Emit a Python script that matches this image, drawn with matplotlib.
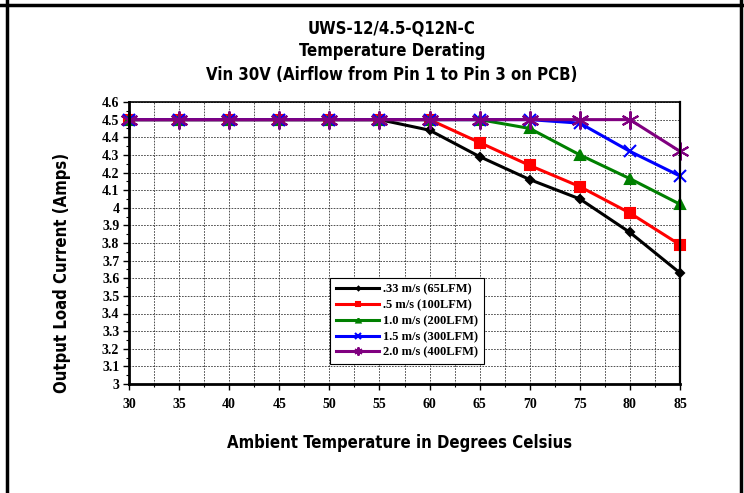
import matplotlib.pyplot as plt
from matplotlib import font_manager
from matplotlib.ticker import MultipleLocator

# --- data ---
temps = [30, 35, 40, 45, 50, 55, 60, 65, 70, 75, 80, 85]
amps_033 = [4.5, 4.5, 4.5, 4.5, 4.5, 4.5, 4.44, 4.29, 4.16, 4.05, 3.86, 3.63]
amps_05 = [4.5, 4.5, 4.5, 4.5, 4.5, 4.5, 4.5, 4.37, 4.24, 4.12, 3.97, 3.79]
amps_10 = [4.5, 4.5, 4.5, 4.5, 4.5, 4.5, 4.5, 4.5, 4.45, 4.30, 4.165, 4.02]
amps_15 = [4.5, 4.5, 4.5, 4.5, 4.5, 4.5, 4.5, 4.5, 4.5, 4.48, 4.32, 4.18]
amps_20 = [4.5, 4.5, 4.5, 4.5, 4.5, 4.5, 4.5, 4.5, 4.5, 4.5, 4.5, 4.32]
labels = [".33 m/s (65LFM)", ".5 m/s (100LFM)", "1.0 m/s (200LFM)",
          "1.5 m/s (300LFM)", "2.0 m/s (400LFM)"]

title_lines = ["UWS-12/4.5-Q12N-C", "Temperature Derating",
               "Vin 30V (Airflow from Pin 1 to Pin 3 on PCB)"]

# look for a condensed bold sans file
cond = [f for f in font_manager.fontManager.ttflist
        if ('Condensed' in f.fname or 'Narrow' in f.fname) and 'Bold' in f.fname
        and 'Oblique' not in f.fname and 'Italic' not in f.fname]
if cond:
    head_prop = dict(fontproperties=font_manager.FontProperties(fname=cond[0].fname, size=12))
else:
    head_prop = dict(family='DejaVu Sans', weight='bold', fontsize=11)
tick_font = 'Liberation Serif'

fig = plt.figure(figsize=(7.44, 4.93), dpi=100)
ax = fig.add_axes([129 / 744, 1 - 384 / 493, (680 - 129) / 744, (384 - 102) / 493])

styles = [
    ('black', 'D', 4, amps_033),
    ('red', 's', 6.5, amps_05),
    ('green', '^', 6.5, amps_10),
    ('blue', 'x', 9, amps_15),
    ('purple', (6, 2, 0), 13, amps_20),
]
for (c, m, ms, vals), lab in zip(styles, labels):
    ax.plot(temps, vals, color=c, marker=m, markersize=ms, lw=2.2,
            markeredgewidth=1.5, label=lab, clip_on=False)

ax.set_xlim(30, 85)
ax.set_ylim(3, 4.6)
ax.xaxis.set_major_locator(MultipleLocator(5))
ax.xaxis.set_minor_locator(MultipleLocator(2.5))
ax.yaxis.set_minor_locator(MultipleLocator(0.05))
yt = [3, 3.1, 3.2, 3.3, 3.4, 3.5, 3.6, 3.7, 3.8, 3.9, 4, 4.1, 4.2, 4.3, 4.4, 4.5, 4.6]
ax.set_yticks(yt)
ax.set_yticklabels([f"{v:g}" for v in yt])

ax.grid(True, which='major', axis='y', color='#333333', lw=0.6, linestyle=(0, (2, 1.5)))
ax.grid(True, which='both', axis='x', color='#333333', lw=0.6, linestyle=(0, (2, 1.5)))
ax.set_axisbelow(True)

for lab in ax.get_xticklabels() + ax.get_yticklabels():
    lab.set_fontfamily(tick_font)
    lab.set_fontweight('bold')
    lab.set_fontsize(10)
ax.tick_params(axis='both', which='major', length=4, width=1, direction='out', pad=3)
ax.tick_params(axis='both', which='minor', length=2.5, width=0.8, direction='out')
ax.tick_params(axis='x', pad=6)

for s in ax.spines.values():
    s.set_linewidth(1.2)
ax.spines['left'].set_linewidth(2)
ax.spines['bottom'].set_linewidth(2)
ax.spines['right'].set_linewidth(1.6)

leg = ax.legend(loc='upper left', bbox_to_anchor=(201 / 551, 106 / 282),
                prop={'family': tick_font, 'weight': 'bold', 'size': 9},
                frameon=True, fancybox=False, edgecolor='black', framealpha=1,
                handlelength=3.5, markerscale=0.45, borderpad=0.45,
                labelspacing=0.3, handletextpad=0.3, borderaxespad=0)
leg.get_frame().set_linewidth(0.8)

# titles
for t, y in zip(title_lines, [28, 51, 75]):
    fig.text(392 / 744, 1 - y / 493, t, ha='center', va='center', **head_prop)

fig.text(400 / 744, 1 - 443 / 493, "Ambient Temperature in Degrees Celsius",
         ha='center', va='center', **head_prop)
fig.text(62 / 744, 1 - 273 / 493, "Output Load Current (Amps)", rotation=90,
         ha='center', va='center', **head_prop)

# page border lines
fig.add_artist(plt.Line2D([0, 1], [1 - 5 / 493, 1 - 5 / 493], color='black', lw=2.5,
                          transform=fig.transFigure))
fig.add_artist(plt.Line2D([7 / 744, 7 / 744], [0, 1], color='black', lw=2.5,
                          transform=fig.transFigure))
fig.add_artist(plt.Line2D([741 / 744, 741 / 744], [0, 1], color='black', lw=2.5,
                          transform=fig.transFigure))

fig.savefig('out.png', dpi=100)
